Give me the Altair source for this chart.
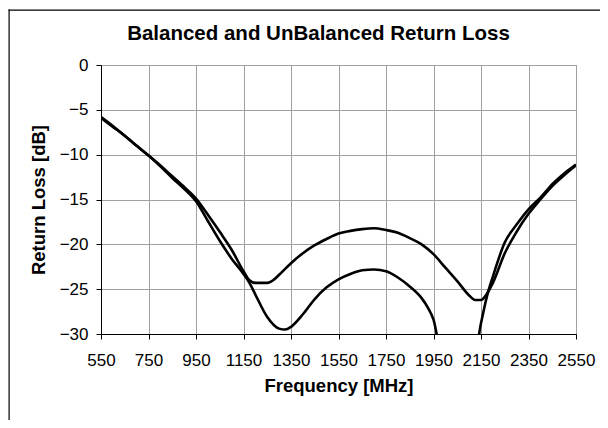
import altair as alt
import pandas as pd

# Series A (shallow dip)
freq_a = [550, 600, 650, 700, 750, 800, 850, 900, 950, 1000, 1050, 1100, 1150, 1175,
          1200, 1250, 1275, 1300, 1350, 1400, 1450, 1500, 1550, 1600, 1650, 1700, 1750,
          1800, 1850, 1900, 1950, 2000, 2050, 2100, 2125, 2150, 2175, 2200, 2250, 2300,
          2350, 2400, 2450, 2500, 2550]
rl_a = [-5.8, -6.8, -7.9, -9.0, -10.1, -11.2, -12.4, -13.6, -14.9, -16.7, -18.6, -20.6, -23.0, -24.0,
        -24.3, -24.3, -24.0, -23.4, -22.1, -21.0, -20.1, -19.4, -18.8, -18.5, -18.3, -18.2, -18.4,
        -18.7, -19.3, -20.0, -21.1, -22.6, -24.1, -25.7, -26.2, -26.2, -25.5, -24.3, -21.0, -18.6,
        -16.6, -15.0, -13.5, -12.3, -11.2]

# Series B (deep dip, goes below the -30 dB floor)
freq_b = [550, 600, 650, 700, 750, 800, 850, 900, 950, 1000, 1050, 1100, 1150, 1175,
          1200, 1250, 1300, 1325, 1350, 1400, 1450, 1500, 1550, 1600, 1650, 1700, 1750,
          1800, 1850, 1900, 1925, 1950, 1975, 2125, 2150, 2175, 2200, 2250, 2300, 2350,
          2400, 2450, 2500, 2550]
rl_b = [-5.9, -6.9, -7.9, -9.0, -10.1, -11.3, -12.6, -13.8, -15.2, -17.4, -19.6, -21.6, -23.3, -24.3,
        -25.6, -28.1, -29.4, -29.5, -29.2, -27.8, -26.1, -24.8, -23.9, -23.3, -22.9, -22.8, -23.0,
        -23.7, -24.7, -26.0, -27.0, -28.4, -31.0, -32.0, -28.8, -25.8, -23.6, -19.8, -17.8, -16.1,
        -14.8, -13.3, -12.1, -11.1]

x_ticks = [550, 750, 950, 1150, 1350, 1550, 1750, 1950, 2150, 2350, 2550]
y_ticks = [0, -5, -10, -15, -20, -25, -30]

df = pd.concat([
    pd.DataFrame({"freq": freq_a, "rl": rl_a, "series": "UnBalanced"}),
    pd.DataFrame({"freq": freq_b, "rl": rl_b, "series": "Balanced"}),
])

FONT = "Liberation Sans"

lines = alt.Chart(df).mark_line(color="black", strokeWidth=2.6, clip=True,
                                interpolate="monotone").encode(
    x=alt.X("freq:Q",
            scale=alt.Scale(domain=[550, 2550], nice=False, zero=False),
            axis=alt.Axis(values=x_ticks, title="Frequency [MHz]", format="d",
                          labelOverlap=False, labelFlush=False,
                          labelPadding=13, titlePadding=8)),
    y=alt.Y("rl:Q",
            scale=alt.Scale(domain=[-30, 0], nice=False, zero=False),
            axis=alt.Axis(values=y_ticks, title="Return Loss [dB]",
                          labelOverlap=False, labelFlush=False,
                          labelPadding=8, titlePadding=11)),
    detail="series:N",
)

# chart frame (top and left edges, as in the reference)
frame_df = pd.DataFrame({"k": [0]})
left_edge = alt.Chart(frame_df).mark_rect(color="black").encode(
    x=alt.value(-92.5), x2=alt.value(-91.3), y=alt.value(-55.5), y2=alt.value(400))
top_edge = alt.Chart(frame_df).mark_rect(color="black").encode(
    x=alt.value(-92.5), x2=alt.value(520), y=alt.value(-55.5), y2=alt.value(-54.3))

chart = alt.layer(lines, left_edge, top_edge).properties(
    width=475,
    height=269,
    background="white",
    autosize=alt.AutoSizeParams(type="none"),
    padding={"left": 93, "top": 57, "right": 24, "bottom": 86},
    title=alt.TitleParams(
        "Balanced and UnBalanced Return Loss",
        font=FONT, fontSize=20.5, fontWeight="bold", color="black",
        anchor="middle", dx=-20, offset=-51, baseline="alphabetic",
    ),
).configure_view(
    stroke="#9a9a9a", strokeWidth=1,
).configure_axis(
    labelFont=FONT, labelFontSize=17, labelColor="black",
    titleFont=FONT, titleFontSize=18.5, titleFontWeight="bold", titleColor="black",
    domainColor="black", domainWidth=1,
    tickColor="black", tickSize=5,
    gridColor="#a0a0a0", gridWidth=1,
)

chart.save("out.html", embed_options={"renderer": "svg", "actions": False})
